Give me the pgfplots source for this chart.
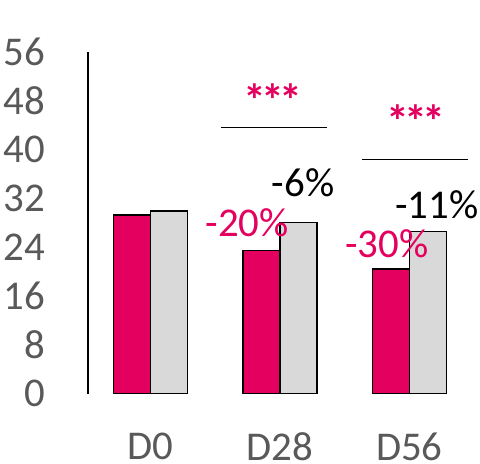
\documentclass[border=0pt]{standalone}
\usepackage{pgfplots}
\pgfplotsset{compat=1.18}
\usepackage{fontspec}
\setmainfont{Carlito}
\definecolor{mag}{HTML}{E4005E}
\definecolor{barg}{HTML}{D9D9D9}
\definecolor{txtg}{HTML}{595959}
\newcommand{\stars}{\bfseries *\kern-5bp*\kern-5bp*}
\begin{document}
\begin{tikzpicture}
\useasboundingbox (0,0) rectangle (480bp,464bp);
\begin{axis}[
    at={(88bp,70.5bp)}, anchor=south west,
    scale only axis,
    width=386bp, height=342bp,
    xmin=-0.485, xmax=2.5,
    ymin=0, ymax=56,
    axis y line*=left,
    axis x line*=bottom,
    x axis line style={draw=none},
    y axis line style={line width=1.2pt, -},
    xtick={0,1,2},
    xticklabels={D0,D28,D56},
    ytick={0,8,...,56},
    major tick length=0pt,
    /pgf/number format/assume math mode=true,
    tick label style={font=\fontsize{41}{49}\selectfont, text=txtg, inner sep=0pt},
    yticklabel style={anchor=east, xshift=-43bp},
    xticklabel style={anchor=north, yshift=-39bp},
    clip=false,
]
\addplot[ybar, bar width=37bp, bar shift=-18.5bp, fill=mag, draw=black, line width=1.5pt]
    coordinates {(0,29.2) (1,23.4) (2,20.4)};
\addplot[ybar, bar width=37bp, bar shift=18.5bp, fill=barg, draw=black, line width=1.5pt]
    coordinates {(0,29.9) (1,28.0) (2,26.5)};
\draw[line width=0.9pt] (axis cs:0.544,43.5) -- (axis cs:1.361,43.5);
\draw[line width=0.9pt] (axis cs:1.632,38.3) -- (axis cs:2.452,38.3);
\begin{scope}[every node/.style={inner sep=0pt, font=\fontsize{41}{49}\selectfont}]
\node[text=mag, font=\fontsize{46}{54}\selectfont, yshift=-11bp] at (axis cs:0.946,49.9) {\stars};
\node[text=mag, font=\fontsize{46}{54}\selectfont, yshift=-11bp] at (axis cs:2.05,46.4) {\stars};
\node[text=black] at (axis cs:1.178,34.5) {-6\%};
\node[text=mag] at (axis cs:0.745,27.9) {-20\%};
\node[text=black] at (axis cs:2.212,30.9) {-11\%};
\node[text=mag] at (axis cs:1.825,24.6) {-30\%};
\end{scope}
\end{axis}
\end{tikzpicture}
\end{document}
